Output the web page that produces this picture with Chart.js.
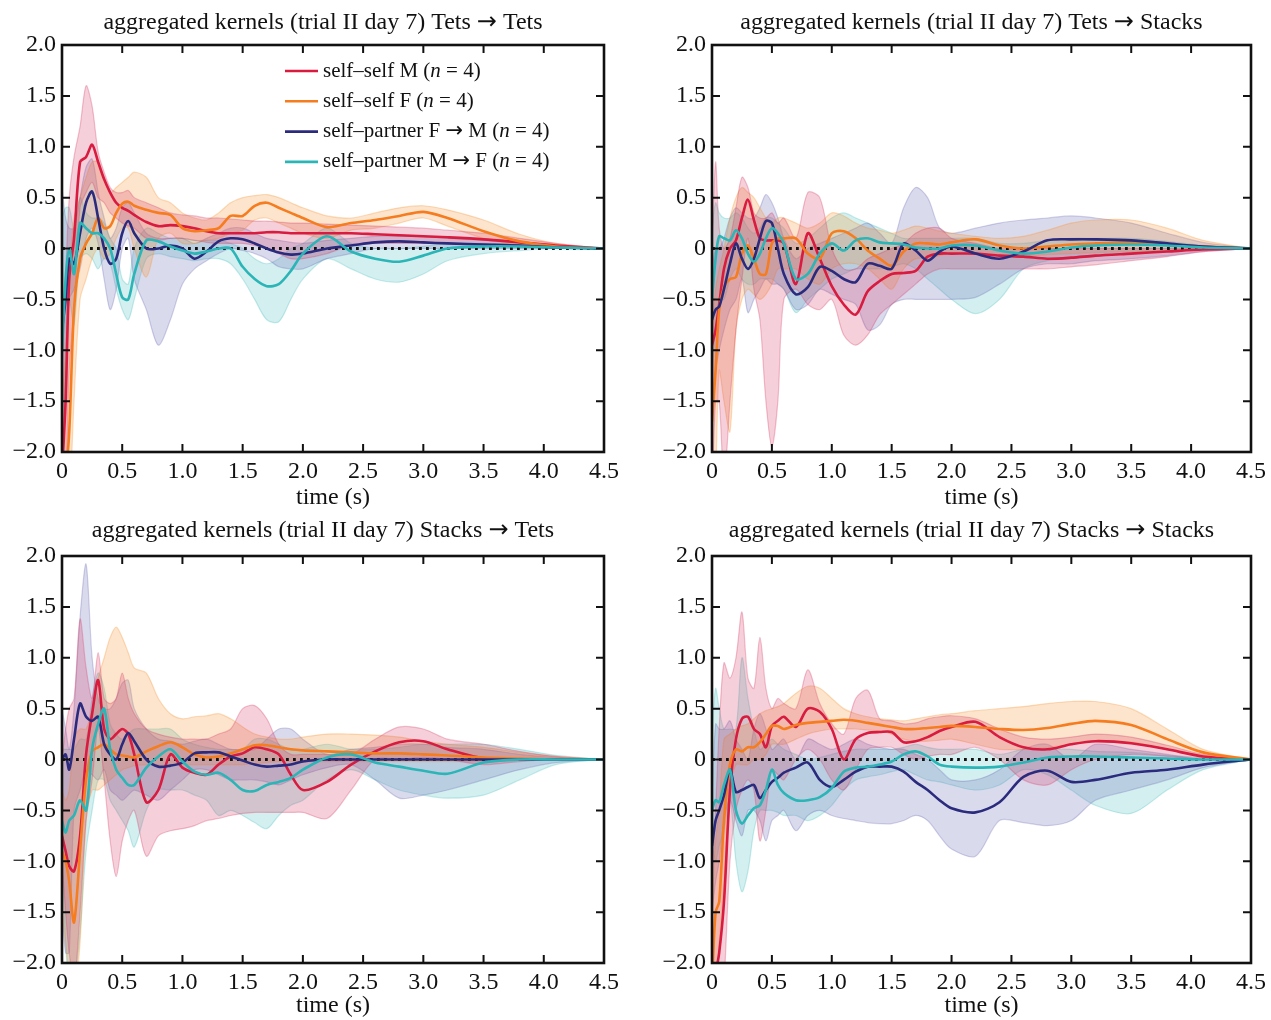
<!DOCTYPE html>
<html><head><meta charset="utf-8">
<script src="https://cdn.jsdelivr.net/npm/chart.js@4.4.1/dist/chart.umd.min.js"></script>
<style>
html,body{margin:0;padding:0;background:#fff}
body{width:1271px;height:1020px;overflow:hidden;position:relative}
canvas{position:absolute;display:block}
</style></head><body>
<canvas id="c0" width="635" height="512" style="left:0;top:0"></canvas>
<canvas id="c1" width="621" height="512" style="left:650px;top:0"></canvas>
<canvas id="c2" width="635" height="509" style="left:0;top:511px"></canvas>
<canvas id="c3" width="621" height="509" style="left:650px;top:511px"></canvas>
<script>
// ---------- data ----------
const T = [0,0.03,0.06,0.1,0.15,0.2,0.25,0.3,0.35,0.4,0.45,0.5,0.55,0.6,0.7,0.8,0.9,1.0,1.1,1.2,1.3,1.4,1.5,1.6,1.7,1.8,1.9,2.0,2.2,2.4,2.6,2.8,3.0,3.2,3.5,3.8,4.1,4.5];

const X_TICK_VALUES = [0,0.5,1,1.5,2,2.5,3,3.5,4,4.5];
const X_TICK_LABELS = ['0','0.5','1.0','1.5','2.0','2.5','3.0','3.5','4.0','4.5'];
const Y_TICK_VALUES = [-2,-1.5,-1,-0.5,0,0.5,1,1.5,2];
const Y_TICK_LABELS = ['\u22122.0','\u22121.5','\u22121.0','\u22120.5','0','0.5','1.0','1.5','2.0'];

const SERIES_NAMES = ['self\u2013self M','self\u2013self F','self\u2013partner F \u2192 M','self\u2013partner M \u2192 F'];
const SERIES_N = [4,4,4,4];
const PANEL_TITLES = [
  'aggregated kernels (trial II day 7) Tets \u2192 Tets',
  'aggregated kernels (trial II day 7) Tets \u2192 Stacks',
  'aggregated kernels (trial II day 7) Stacks \u2192 Tets',
  'aggregated kernels (trial II day 7) Stacks \u2192 Stacks'
];

// Panel 1: Tets -> Tets
const P1_RED    = [-2.2,-1.5,-0.3,0.1,0.85,0.9,1.02,0.85,0.68,0.55,0.45,0.4,0.37,0.33,0.26,0.22,0.23,0.22,0.2,0.17,0.15,0.15,0.15,0.15,0.16,0.16,0.15,0.15,0.15,0.15,0.14,0.13,0.12,0.11,0.09,0.06,0.03,0];
const P1_RED_HI = [-1.2,-0.3,0.5,0.9,1.2,1.6,1.4,0.95,0.75,0.6,0.55,0.55,0.57,0.5,0.45,0.4,0.35,0.33,0.32,0.3,0.3,0.29,0.28,0.27,0.27,0.26,0.25,0.25,0.24,0.23,0.22,0.21,0.2,0.18,0.15,0.1,0.05,0];
const P1_RED_LO = [-3,-2.5,-1.2,-0.6,0.4,0.55,0.65,0.5,0.45,0.35,0.3,0.25,0.22,0.2,0.1,0.08,0.1,0.1,0.08,0.06,0.05,0.05,0.05,0.03,0,-0.05,-0.1,-0.1,-0.05,0.03,0.05,0.05,0.05,0.05,0.04,0.03,0.01,0];
const P1_ORA    = [-2.3,-2.2,-1.8,-0.6,-0.1,0.05,0.15,0.3,0.2,0.22,0.35,0.44,0.46,0.42,0.38,0.35,0.33,0.2,0.17,0.18,0.2,0.32,0.32,0.42,0.45,0.4,0.35,0.3,0.21,0.25,0.28,0.32,0.36,0.3,0.17,0.07,0.02,0];
const P1_ORA_HI = [-1.5,-1.0,-0.3,0.3,0.5,0.7,0.85,0.85,0.7,0.55,0.6,0.65,0.7,0.75,0.7,0.5,0.45,0.35,0.3,0.28,0.35,0.45,0.5,0.52,0.53,0.5,0.45,0.4,0.32,0.3,0.35,0.4,0.42,0.38,0.28,0.14,0.05,0];
const P1_ORA_LO = [-3,-3,-2.6,-1.5,-0.5,-0.3,-0.1,0,-0.1,-0.05,0.1,0.2,0.2,0,-0.28,0.1,0.15,0.05,0.05,0.08,0.1,0.15,0.18,0.28,0.3,0.25,0.2,0.15,0.1,0.18,0.2,0.25,0.3,0.22,0.1,0.03,0,0];
const P1_NAV    = [-0.8,-0.5,-0.1,-0.15,0.15,0.45,0.56,0.3,0,-0.15,-0.1,0.15,0.27,0.15,0,0,0.03,0,-0.1,-0.03,0.07,0.1,0.09,0.05,0,-0.04,-0.06,-0.05,0,0.03,0.06,0.07,0.06,0.05,0.04,0.03,0.01,0];
const P1_NAV_HI = [0.6,0.3,0.2,0.2,0.5,0.8,0.88,0.55,0.3,0.1,0.2,0.4,0.45,0.35,0.15,0.1,0.1,0.1,0.05,0.1,0.15,0.2,0.2,0.15,0.1,0.08,0.06,0.05,0.08,0.1,0.12,0.12,0.12,0.1,0.08,0.06,0.02,0];
const P1_NAV_LO = [-2,-1.5,-0.5,-0.4,-0.2,0.1,0.2,0.05,-0.3,-0.6,-0.4,0,0.1,-0.3,-0.6,-0.95,-0.7,-0.35,-0.2,-0.12,-0.05,0,-0.02,-0.05,-0.1,-0.18,-0.2,-0.2,-0.1,-0.05,0,0,0,0,0,0,0,0];
const P1_TEA    = [-1.0,-0.3,0,-0.25,0.25,0.2,0.15,0.15,0.1,0,-0.25,-0.48,-0.5,-0.25,0.08,0.07,0.02,-0.02,-0.05,-0.03,0,0,-0.18,-0.3,-0.37,-0.35,-0.22,-0.05,0.12,-0.03,-0.1,-0.13,-0.07,0,0.02,0.02,0.01,0];
const P1_TEA_HI = [0.3,0.4,0.4,0.2,0.5,0.35,0.3,0.3,0.25,0.1,0,-0.3,-0.35,0,0.2,0.15,0.1,0.1,0.08,0.08,0.08,0.05,0,-0.1,-0.15,-0.1,0,0.05,0.2,0.05,0,0,0.02,0.05,0.05,0.04,0.02,0];
const P1_TEA_LO = [-2,-1.2,-0.5,-0.75,-0.1,-0.05,-0.1,-0.2,-0.1,-0.15,-0.4,-0.6,-0.7,-0.5,-0.1,-0.05,-0.08,-0.1,-0.12,-0.1,-0.1,-0.15,-0.3,-0.5,-0.7,-0.72,-0.5,-0.3,-0.1,-0.2,-0.3,-0.33,-0.25,-0.12,-0.05,-0.02,0,0];

// Panel 2: Tets -> Stacks
const P2_RED    = [-0.95,-0.8,-0.55,-0.2,0,0.08,0.3,0.48,0.28,0.1,0.08,0.08,0.08,0.05,-0.35,0.15,-0.1,-0.37,-0.55,-0.65,-0.42,-0.32,-0.25,-0.24,-0.22,-0.08,-0.05,-0.05,-0.05,-0.07,-0.08,-0.1,-0.09,-0.07,-0.05,-0.03,-0.01,0];
const P2_RED_HI = [0,0.85,0.2,0,0.1,0.4,0.7,0.6,0.35,0.3,0.3,0.35,0.25,0.3,0.1,0.55,0.5,0,-0.2,-0.2,-0.1,-0.05,0,0.05,0.15,0.2,0.2,0.1,0.05,0,0,0,0,0,0,0,0,0];
const P2_RED_LO = [-2.5,-1.5,-1.5,-2.3,-1.5,-0.8,-0.3,0.1,-0.4,-0.7,-1.5,-1.95,-1.5,-0.5,-0.4,-0.55,-0.6,-0.5,-0.85,-0.95,-0.85,-0.65,-0.55,-0.45,-0.35,-0.25,-0.2,-0.2,-0.2,-0.2,-0.2,-0.2,-0.18,-0.16,-0.12,-0.08,-0.03,0];
const P2_ORA    = [-1.7,-1.2,-0.6,-0.38,-0.3,-0.28,-0.05,0.03,-0.1,-0.25,-0.25,0.05,0.1,0.1,0.1,-0.05,-0.1,0.15,0.17,0.1,-0.02,-0.1,-0.17,-0.03,0.05,0.05,0.04,0.06,0.09,0.03,0,0.02,0.04,0.05,0.06,0.04,0.02,0];
const P2_ORA_HI = [-0.8,-0.4,-0.2,0,0.3,0.5,0.6,0.55,0.5,0.4,0.3,0.25,0.3,0.3,0.25,0.2,0.25,0.35,0.32,0.25,0.2,0.18,0.15,0.18,0.22,0.2,0.17,0.15,0.12,0.1,0.12,0.18,0.25,0.28,0.28,0.2,0.08,0];
const P2_ORA_LO = [-2.5,-2.2,-1.2,-1.5,-1.8,-0.8,-0.5,-0.4,-0.45,-0.5,-0.45,-0.35,-0.2,-0.2,-0.2,-0.3,-0.35,-0.2,-0.15,-0.15,-0.2,-0.3,-0.4,-0.2,-0.1,-0.1,-0.07,-0.05,-0.05,-0.08,-0.08,-0.06,-0.05,-0.04,-0.03,-0.02,-0.01,0];
const P2_NAV    = [-0.7,-0.6,-0.57,-0.4,-0.15,0.05,-0.1,-0.2,-0.1,0.1,0.27,0.25,0,-0.25,-0.45,-0.38,-0.18,-0.22,-0.3,-0.33,-0.15,-0.17,-0.2,0.05,-0.02,-0.12,-0.03,0.02,-0.05,-0.1,-0.03,0.08,0.09,0.09,0.08,0.05,0.02,0];
const P2_NAV_HI = [-0.2,0,0,0.1,0.3,0.4,0.35,0.3,0.3,0.4,0.53,0.45,0.3,0.1,-0.1,0,0.05,0.1,0.15,0.2,0.25,0.15,0.05,0.4,0.6,0.5,0.2,0.15,0.2,0.25,0.28,0.3,0.32,0.3,0.25,0.15,0.06,0];
const P2_NAV_LO = [-1.5,-1.2,-1.0,-0.8,-0.6,-0.5,-0.3,-0.63,-0.5,-0.4,-0.3,-0.35,-0.35,-0.4,-0.6,-0.55,-0.4,-0.45,-0.5,-0.55,-0.8,-0.75,-0.55,-0.5,-0.5,-0.5,-0.5,-0.5,-0.48,-0.35,-0.2,-0.15,-0.15,-0.12,-0.1,-0.07,-0.03,0];
const P2_TEA    = [-0.5,-0.1,0.12,0.1,0.08,0.18,0.1,-0.05,-0.13,-0.05,0.1,0.2,0.15,0.05,-0.3,-0.25,-0.05,0.05,-0.02,0.08,0.1,0.06,0.05,0.04,0.01,0,0,0.03,0.03,-0.02,-0.05,-0.03,0.01,0.03,0.04,0.03,0.01,0];
const P2_TEA_HI = [0.2,0.45,0.35,0.3,0.3,0.35,0.3,0.2,0.15,0.2,0.3,0.3,0.25,0.2,0.05,0.1,0.2,0.3,0.35,0.3,0.25,0.2,0.15,0.1,0.1,0.1,0.1,0.1,0.1,0.05,0.05,0.08,0.1,0.1,0.1,0.07,0.03,0];
const P2_TEA_LO = [-1.2,-0.8,-0.5,-0.5,-0.3,-0.2,-0.3,-0.35,-0.35,-0.3,-0.3,-0.3,-0.35,-0.4,-0.63,-0.5,-0.4,-0.3,-0.25,-0.2,-0.2,-0.2,-0.18,-0.15,-0.2,-0.3,-0.4,-0.5,-0.64,-0.5,-0.2,-0.12,-0.1,-0.08,-0.05,-0.03,-0.01,0];

// Panel 3: Stacks -> Tets
const P3_RED    = [-0.75,-0.9,-1.05,-1.1,-0.75,0.05,0.45,0.78,0.3,0.2,0.25,0.3,0.25,0.05,-0.42,-0.3,0.05,-0.08,-0.13,-0.15,-0.05,0.03,0.06,0.12,0.1,0.05,-0.15,-0.3,-0.22,-0.05,0.08,0.17,0.18,0.1,0.01,0,0,0];
const P3_RED_HI = [0,0.3,0.5,0.6,1.38,0.9,0.6,1.05,0.6,0.55,0.6,0.85,0.6,0.45,0.3,0.25,0.22,0.2,0.2,0.2,0.25,0.3,0.5,0.53,0.4,0.15,0.05,0.05,0.05,0.05,0.2,0.32,0.3,0.2,0.15,0.08,0.03,0];
const P3_RED_LO = [-1.0,-1.5,-1.9,-2.2,-1.5,-0.6,-0.2,0.3,-0.2,-0.8,-1.15,-0.8,-0.6,-0.5,-0.95,-0.75,-0.7,-0.68,-0.65,-0.6,-0.58,-0.55,-0.53,-0.52,-0.52,-0.52,-0.52,-0.52,-0.58,-0.3,0,0,0.02,0,-0.05,-0.02,0,0];
const P3_ORA    = [-0.9,-1.0,-1.2,-1.6,-0.9,-0.2,0.08,0.12,0.15,0.1,0.05,0.04,0.03,0.02,0.08,0.13,0.17,0.12,0.05,0.02,0.03,0.06,0.1,0.14,0.14,0.12,0.1,0.09,0.08,0.07,0.06,0.06,0.05,0.04,0.02,0.01,0,0];
const P3_ORA_HI = [-0.3,-0.4,-0.3,0.2,0.3,0.3,0.5,0.8,1.0,1.2,1.3,1.2,1.05,0.9,0.85,0.6,0.45,0.4,0.42,0.43,0.45,0.4,0.32,0.25,0.22,0.2,0.2,0.22,0.25,0.25,0.24,0.22,0.18,0.15,0.12,0.07,0.03,0];
const P3_ORA_LO = [-1.5,-1.8,-2.1,-2.3,-1.8,-0.6,-0.3,-0.3,-0.25,-0.2,-0.15,-0.1,-0.08,-0.06,-0.05,-0.05,-0.05,-0.05,-0.05,-0.05,-0.05,-0.05,-0.05,-0.04,-0.03,-0.02,-0.02,-0.02,-0.02,-0.02,-0.02,-0.02,-0.02,-0.02,-0.02,-0.01,0,0];
const P3_NAV    = [0,0.05,-0.1,0.2,0.55,0.42,0.38,0.42,0.15,0.05,0,0.15,0.26,0.18,0,-0.07,-0.06,-0.03,0.06,0.07,0.07,0.03,-0.01,-0.05,-0.07,-0.06,-0.05,-0.02,0,0,0,0,0,0,0,0,0,0];
const P3_NAV_HI = [0.5,0.3,0.1,0.5,1.4,1.92,1.0,0.6,0.5,0.5,0.6,0.75,0.78,0.5,0.3,0.2,0.18,0.15,0.18,0.2,0.15,0.1,0.1,0.1,0.2,0.3,0.3,0.2,0.05,0.1,0.12,0.15,0.15,0.12,0.1,0.05,0.02,0];
const P3_NAV_LO = [-1.5,-1.9,-1.9,-0.5,-0.3,-0.1,-0.15,-0.2,-0.1,-0.3,-0.35,-0.4,-0.35,-0.3,-0.35,-0.4,-0.3,-0.2,-0.1,-0.1,-0.15,-0.2,-0.2,-0.2,-0.22,-0.25,-0.2,-0.15,-0.08,-0.05,-0.2,-0.38,-0.35,-0.3,-0.2,-0.1,-0.03,0];
const P3_TEA    = [-0.6,-0.72,-0.6,-0.55,-0.4,-0.5,0.1,0.35,0.5,0.1,-0.1,-0.18,-0.25,-0.25,-0.08,0.03,0.1,-0.02,-0.12,-0.15,-0.13,-0.2,-0.3,-0.31,-0.25,-0.22,-0.18,-0.1,0.02,0.05,-0.03,-0.07,-0.11,-0.14,-0.03,0,0,0];
const P3_TEA_HI = [0.1,0.1,0.1,0.1,0.2,0.2,0.6,0.85,0.7,0.35,0.25,0.2,0.25,0.3,0.3,0.3,0.3,0.2,0.15,0.12,0.1,0.1,0.1,0.2,0.2,0.15,0.1,0.1,0.15,0.1,0.1,0.12,0.15,0.15,0.15,0.1,0.04,0];
const P3_TEA_LO = [-1.0,-1.8,-2.2,-2.2,-1.7,-0.9,-0.5,-0.2,-0.2,-0.4,-0.5,-0.6,-0.7,-0.86,-0.5,-0.3,-0.3,-0.3,-0.35,-0.4,-0.55,-0.5,-0.55,-0.62,-0.68,-0.55,-0.45,-0.4,-0.2,-0.1,-0.2,-0.3,-0.35,-0.38,-0.35,-0.2,-0.05,0];

// Panel 4: Stacks -> Stacks
const P4_RED    = [-2.3,-2.1,-1.9,-1.4,-0.3,0.2,0.4,0.42,0.3,0.25,0.12,0.33,0.38,0.42,0.32,0.5,0.47,0.3,0,0.2,0.26,0.27,0.27,0.17,0.18,0.22,0.28,0.32,0.37,0.22,0.12,0.1,0.15,0.18,0.16,0.1,0.03,0];
const P4_RED_HI = [-1.2,-0.5,0.3,0.95,0.8,1.0,1.45,0.8,0.7,1.2,0.7,0.5,0.6,0.55,0.5,0.88,0.55,0.35,0.25,0.6,0.68,0.4,0.38,0.35,0.36,0.4,0.42,0.43,0.4,0.3,0.22,0.2,0.22,0.25,0.22,0.14,0.05,0];
const P4_RED_LO = [-3,-3,-2.6,-2.2,-1.0,-0.5,-0.3,-0.2,-0.3,-0.8,-0.5,-0.1,-0.15,-0.2,0,0.1,0,-0.2,-0.3,-0.1,0.1,0.12,0.12,0.05,0,0.03,0.05,0.05,0.12,0,-0.2,-0.25,-0.1,0,0.05,0.03,0,0];
const P4_ORA    = [-2.2,-1.5,-1.4,-0.6,-0.05,0.1,0.08,0.12,0.12,0.17,0.25,0.33,0.33,0.3,0.34,0.36,0.37,0.38,0.39,0.38,0.36,0.34,0.32,0.3,0.3,0.31,0.32,0.33,0.32,0.3,0.29,0.31,0.35,0.38,0.34,0.2,0.07,0];
const P4_ORA_HI = [-1.5,-0.8,-0.5,0.2,0.25,0.3,0.33,0.35,0.4,0.45,0.48,0.5,0.52,0.55,0.65,0.72,0.7,0.6,0.5,0.45,0.42,0.4,0.39,0.38,0.4,0.42,0.44,0.45,0.48,0.5,0.52,0.55,0.57,0.57,0.5,0.3,0.1,0];
const P4_ORA_LO = [-3,-2.3,-1.8,-1.2,-0.3,-0.05,-0.05,-0.05,0,0,0.05,0.15,0.15,0.15,0.2,0.25,0.28,0.3,0.3,0.3,0.29,0.28,0.25,0.2,0.18,0.18,0.19,0.2,0.15,0.1,0.1,0.12,0.15,0.18,0.17,0.1,0.03,0];
const P4_NAV    = [-0.85,-0.6,-0.5,-0.35,-0.1,-0.32,-0.3,-0.27,-0.25,-0.38,-0.3,-0.22,-0.18,-0.13,-0.08,-0.03,-0.2,-0.27,-0.2,-0.12,-0.07,-0.07,-0.07,-0.12,-0.22,-0.3,-0.4,-0.48,-0.52,-0.42,-0.17,-0.11,-0.22,-0.2,-0.13,-0.1,-0.05,0];
const P4_NAV_HI = [-0.4,0.35,0.3,0.3,0.38,0.2,0.1,0,0.3,0.45,0.3,0.1,0.15,0.2,0,0.2,0.15,0.1,0.15,0.2,0.15,0.12,0.1,0.1,0.05,0,-0.1,-0.2,-0.2,-0.1,0.1,0.15,0,0.15,0.1,0.05,0,0];
const P4_NAV_LO = [-1.5,-1.2,-1.0,-0.6,-0.4,-0.6,-0.75,-0.5,-0.5,-0.6,-0.8,-0.6,-0.55,-0.5,-0.7,-0.55,-0.5,-0.55,-0.58,-0.6,-0.62,-0.63,-0.63,-0.6,-0.55,-0.6,-0.75,-0.88,-0.95,-0.6,-0.62,-0.65,-0.6,-0.4,-0.3,-0.2,-0.08,0];
const P4_TEA    = [-0.5,-0.4,-0.42,-0.25,-0.1,-0.5,-0.63,-0.55,-0.48,-0.45,-0.3,-0.1,-0.25,-0.33,-0.4,-0.4,-0.37,-0.28,-0.12,-0.08,-0.07,-0.05,-0.02,0.05,0.08,0.03,-0.05,-0.07,-0.08,-0.07,-0.03,0.02,0.03,0.03,0.02,0.01,0,0];
const P4_TEA_HI = [0.25,0.7,0.5,0.3,0.3,0.3,1.0,0.6,0.3,0.1,0.15,0.2,0.15,0.1,0.05,0,0.02,0.05,0.08,0.1,0.1,0.1,0.1,0.12,0.15,0.12,0.1,0.1,0.1,0.05,0.1,0.1,0.1,0.08,0.07,0.04,0.02,0];
const P4_TEA_LO = [-0.8,-1.0,-0.85,-0.7,-0.4,-1.0,-1.3,-1.1,-0.7,-0.5,-0.5,-0.5,-0.52,-0.55,-0.55,-0.6,-0.55,-0.45,-0.3,-0.2,-0.17,-0.15,-0.12,-0.1,-0.15,-0.2,-0.22,-0.25,-0.3,-0.25,-0.1,-0.15,-0.3,-0.45,-0.53,-0.3,-0.1,0];

// ---------- styling ----------
const LINE_COLORS = ['#d81b3f','#f57d1f','#2b2b7e','#2bb5b7'];
const BAND_FILL = ['rgba(212,55,98,0.24)','rgba(246,141,41,0.24)','rgba(112,112,184,0.26)','rgba(69,189,189,0.24)'];
const BAND_EDGE = ['rgba(212,55,98,0.30)','rgba(246,141,41,0.30)','rgba(112,112,184,0.32)','rgba(69,189,189,0.30)'];
const FONT = '"Liberation Serif","Times New Roman",serif';
const ARROW_FONT = '"DejaVu Sans",sans-serif';
const FS = 24;
const TFS = 24;

const PANELS = [
  {mean:[P1_RED,P1_ORA,P1_NAV,P1_TEA], hi:[P1_RED_HI,P1_ORA_HI,P1_NAV_HI,P1_TEA_HI], lo:[P1_RED_LO,P1_ORA_LO,P1_NAV_LO,P1_TEA_LO], legend:true, titleGap:22},
  {mean:[P2_RED,P2_ORA,P2_NAV,P2_TEA], hi:[P2_RED_HI,P2_ORA_HI,P2_NAV_HI,P2_TEA_HI], lo:[P2_RED_LO,P2_ORA_LO,P2_NAV_LO,P2_TEA_LO], legend:false, titleGap:22},
  {mean:[P3_RED,P3_ORA,P3_NAV,P3_TEA], hi:[P3_RED_HI,P3_ORA_HI,P3_NAV_HI,P3_TEA_HI], lo:[P3_RED_LO,P3_ORA_LO,P3_NAV_LO,P3_TEA_LO], legend:false, titleGap:25},
  {mean:[P4_RED,P4_ORA,P4_NAV,P4_TEA], hi:[P4_RED_HI,P4_ORA_HI,P4_NAV_HI,P4_TEA_HI], lo:[P4_RED_LO,P4_ORA_LO,P4_NAV_LO,P4_TEA_LO], legend:false, titleGap:25}
];

const pts = arr => T.map((t,i)=>({x:t,y:arr[i]}));

function buildDatasets(p){
  const ds = [];
  for(let s=0;s<4;s++){
    ds.push({label:SERIES_NAMES[s], data:pts(p.mean[s]), borderColor:LINE_COLORS[s], borderWidth:2.6, fill:false, order:3-s, tension:0.3});
  }
  ds.push({label:'zero', data:pts(T.map(()=>0)), borderColor:'#111', borderWidth:2.8, borderDash:[2.8,4.2], borderCapStyle:'butt', fill:false, order:10, tension:0});
  for(let s=0;s<4;s++){
    ds.push({label:'hi'+s, data:pts(p.hi[s]), borderColor:BAND_EDGE[s], borderWidth:1.2, backgroundColor:BAND_FILL[s], fill:'+1', order:20+s, tension:0.3});
    ds.push({label:'lo'+s, data:pts(p.lo[s]), borderColor:BAND_EDGE[s], borderWidth:1.2, fill:false, order:20+s, tension:0.3});
  }
  return ds;
}

function pieces(text, size){
  const out = [];
  text.split(/(\u2192)/).forEach(seg=>{
    if(seg==='') return;
    if(seg==='\u2192') out.push([seg, size+'px '+ARROW_FONT]);
    else out.push([seg, size+'px '+FONT]);
  });
  return out;
}
function drawPieces(ctx, list, x, y, align){
  let total = 0;
  list.forEach(([t,f])=>{ ctx.font=f; total += ctx.measureText(t).width; });
  let cx = align==='center' ? x - total/2 : x;
  ctx.textAlign = 'left';
  list.forEach(([t,f])=>{ ctx.font=f; ctx.fillText(t, cx, y); cx += ctx.measureText(t).width; });
}

const framePlugin = (title, legend, gap) => ({
  id:'frame',
  afterDatasetsDraw(chart){
    const {ctx, chartArea:a, scales} = chart;
    ctx.save();
    ctx.strokeStyle = '#111';
    ctx.lineWidth = 2;
    const L = 8;
    ctx.beginPath();
    X_TICK_VALUES.forEach(v=>{
      const x = scales.x.getPixelForValue(v);
      ctx.moveTo(x,a.bottom); ctx.lineTo(x,a.bottom-L);
      ctx.moveTo(x,a.top); ctx.lineTo(x,a.top+L);
    });
    Y_TICK_VALUES.forEach(v=>{
      const y = scales.y.getPixelForValue(v);
      ctx.moveTo(a.left,y); ctx.lineTo(a.left+L,y);
      ctx.moveTo(a.right,y); ctx.lineTo(a.right-L,y);
    });
    ctx.stroke();
    ctx.lineWidth = 2.6;
    ctx.strokeRect(a.left, a.top, a.right-a.left, a.bottom-a.top);
    ctx.restore();
  },
  afterDraw(chart){
    const {ctx, chartArea:a} = chart;
    ctx.save();
    ctx.fillStyle = '#111';
    ctx.textBaseline = 'middle';
    drawPieces(ctx, pieces(title, TFS), (a.left+a.right)/2 - 10, a.top - gap, 'center');
    if(legend){
      for(let s=0;s<4;s++){
        const y = a.top + 26 + s*30.3;
        ctx.strokeStyle = LINE_COLORS[s];
        ctx.lineWidth = 2.6;
        ctx.beginPath(); ctx.moveTo(a.left+223,y); ctx.lineTo(a.left+256,y); ctx.stroke();
        const list = pieces(SERIES_NAMES[s]+' (', 21);
        list.push(['n', 'italic 21px '+FONT]);
        list.push([' = '+SERIES_N[s]+')', '21px '+FONT]);
        drawPieces(ctx, list, a.left+261, y, 'left');
      }
    }
    ctx.restore();
  }
});

PANELS.forEach((p,i)=>{
  const canvas = document.getElementById('c'+i);
  const rightPad = canvas.width - 604;
  new Chart(canvas, {
    type:'line',
    data:{datasets:buildDatasets(p)},
    options:{
      responsive:false, animation:false, devicePixelRatio:1,
      layout:{padding:{left:0, top:45, right:rightPad, bottom:0}},
      elements:{point:{radius:0, hoverRadius:0}},
      plugins:{legend:{display:false}, tooltip:{enabled:false}, title:{display:false}},
      scales:{
        x:{type:'linear', min:0, max:4.5,
           afterFit(s){ s.height = canvas.height - 452; },
           afterBuildTicks(s){ s.ticks = X_TICK_VALUES.map(v=>({value:v})); },
           grid:{display:false, drawTicks:false}, border:{display:false},
           ticks:{padding:5, color:'#111', autoSkip:false, maxRotation:0, font:{family:FONT,size:FS},
                  callback:(v,idx)=>X_TICK_LABELS[idx]},
           title:{display:true, text:'time (s)', color:'#111', font:{family:FONT,size:FS}, padding:{top:0,bottom:0}}},
        y:{type:'linear', min:-2, max:2,
           afterFit(s){ s.width = 62; },
           afterBuildTicks(s){ s.ticks = Y_TICK_VALUES.map(v=>({value:v})); },
           grid:{display:false, drawTicks:false}, border:{display:false},
           ticks:{padding:6, color:'#111', autoSkip:false, font:{family:FONT,size:FS},
                  callback:(v,idx)=>Y_TICK_LABELS[idx]}}
      }
    },
    plugins:[framePlugin(PANEL_TITLES[i], p.legend, p.titleGap)]
  });
});
</script>
</body></html>
